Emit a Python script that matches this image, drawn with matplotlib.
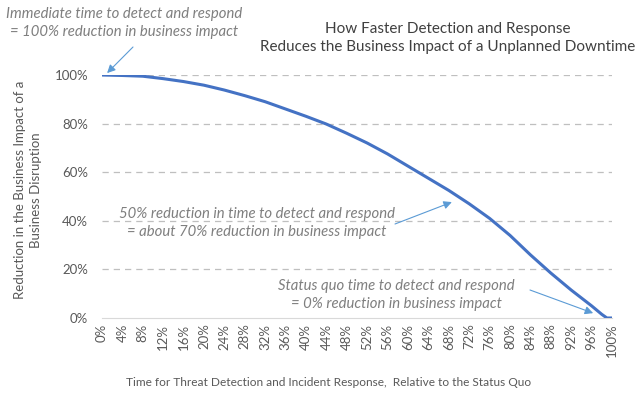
import numpy as np
import matplotlib
matplotlib.use("Agg")
import matplotlib.pyplot as plt
from matplotlib.ticker import PercentFormatter

# time for detection/response relative to status quo (%) and reduction in impact (%)
time_pct = [0, 4, 8, 12, 16, 20, 24, 28, 32, 36, 40, 44, 48, 52, 56, 60, 64, 68,
            72, 76, 80, 84, 88, 92, 96, 98, 99, 100]
impact_pct = [100, 99.8, 99.5, 98.5, 97.3, 95.8, 93.8, 91.5, 89, 86, 83, 79.8, 76,
              72, 67.5, 62.5, 57.5, 52.5, 47, 41, 34, 26, 18.5, 11.5, 5, 1.5, 0, 0]
tick_labels = ["%d%%" % t for t in range(0, 101, 4)]

title = "How Faster Detection and Response\nReduces the Business Impact of a Unplanned Downtime"
xlabel = "Time for Threat Detection and Incident Response,  Relative to the Status Quo"
ylabel = "Reduction in the Business Impact of a\nBusiness Disruption"
note_top = "Immediate time to detect and respond\n= 100% reduction in business impact"
note_mid = "50% reduction in time to detect and respond\n= about 70% reduction in business impact"
note_end = "Status quo time to detect and respond\n= 0% reduction in business impact"

plt.rcParams['font.family'] = ['Lato', 'DejaVu Sans']
txt_gray = '#595959'
note_gray = '#7f7f7f'
line_blue = '#4472c4'
arrow_blue = '#5b9bd5'

fig = plt.figure(figsize=(6.4, 3.99), dpi=100)
ax = fig.add_axes([102 / 640, 1 - 318 / 399, 510 / 640, (318 - 75) / 399])

ax.plot(time_pct, impact_pct, color=line_blue, lw=2.2, solid_capstyle='butt', zorder=3)

ax.set_xlim(0, 100)
ax.set_ylim(0, 100)
ax.set_xticks(range(0, 101, 4))
ax.set_xticklabels(tick_labels, rotation=90, fontsize=9.5, color=txt_gray)
ax.set_yticks(range(0, 101, 20))
ax.yaxis.set_major_formatter(PercentFormatter(decimals=0))
ax.tick_params(axis='y', length=0, pad=10, labelsize=9.5, labelcolor=txt_gray)
ax.tick_params(axis='x', length=0, pad=4)
for s in ['top', 'right', 'left']:
    ax.spines[s].set_visible(False)
ax.spines['bottom'].set_color('#d9d9d9')
for v in range(20, 101, 20):
    ax.axhline(v, color='#bfbfbf', lw=0.9, ls=(0, (5, 4)), zorder=1)

fig.text(448 / 640, 1 - 38 / 399, title, ha='center', va='center', fontsize=11,
         color='#404040', linespacing=1.45)
fig.text(329 / 640, 1 - 383 / 399, xlabel, ha='center', va='center', fontsize=8.6,
         color=txt_gray)
fig.text(28 / 640, 1 - 190 / 399, ylabel, ha='center', va='center', rotation=90,
         fontsize=9.5, color=txt_gray, linespacing=1.4)

arrow = dict(arrowstyle='-|>', color=arrow_blue, lw=0.8, mutation_scale=12,
             shrinkA=0, shrinkB=0)
note_kw = dict(textcoords='figure pixels', ha='center', va='center', fontsize=10.7,
               style='italic', color=note_gray, linespacing=1.35, annotation_clip=False)

ax.annotate(note_top, xy=(1, 100.8), xytext=(124, 399 - 23), **note_kw)
ax.annotate('', xy=(1, 100.8), xytext=(133, 399 - 47),
            textcoords='figure pixels', arrowprops=arrow, annotation_clip=False)

ax.annotate(note_mid, xy=(68.6, 47.7), xytext=(257, 399 - 223), **note_kw)
ax.annotate('', xy=(68.6, 47.7), xytext=(395, 399 - 224),
            textcoords='figure pixels', arrowprops=arrow)

ax.annotate(note_end, xy=(96.3, 2), xytext=(396, 399 - 295), **note_kw)
ax.annotate('', xy=(96.3, 2), xytext=(530, 399 - 290),
            textcoords='figure pixels', arrowprops=arrow)

fig.savefig('out.png', dpi=100)
